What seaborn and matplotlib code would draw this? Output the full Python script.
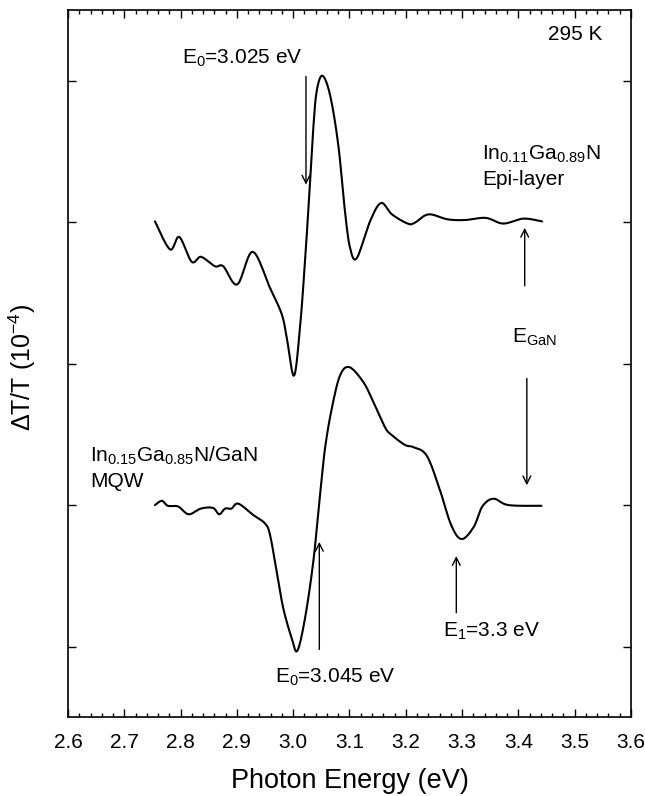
import numpy as np
import pandas as pd
import matplotlib
matplotlib.use("Agg")
import matplotlib.pyplot as plt
import seaborn as sns
from matplotlib.ticker import MultipleLocator

# Epi-layer spectrum (offset +2)
epi_x = [2.7545, 2.7812, 2.7977, 2.8197, 2.8362, 2.8611, 2.8758, 2.9007, 2.928, 2.9588,
         2.9796, 2.9885, 3.0014, 3.0121, 3.021, 3.0286, 3.0357, 3.0417, 3.0517, 3.0654,
         3.0801, 3.092, 3.1009, 3.1128, 3.1364, 3.156, 3.1754, 3.2032, 3.2156, 3.2403,
         3.2742, 3.3051, 3.3421, 3.373, 3.4088, 3.4422]
epi_y = [2.01, 1.615, 1.79, 1.44, 1.51, 1.376, 1.376, 1.12, 1.58, 1.07,
         0.70, 0.37, -0.17, 0.51, 1.45, 2.39, 3.33, 3.85, 4.07, 3.80,
         3.09, 2.15, 1.64, 1.49, 2.01, 2.27, 2.11, 1.98, 1.99, 2.11,
         2.04, 2.03, 2.06, 1.98, 2.05, 2.01]

# MQW spectrum (offset -2)
mqw_x = [2.7544, 2.7668, 2.7773, 2.7957, 2.8142, 2.8359, 2.8575, 2.8686, 2.879, 2.8902,
         2.9025, 2.9291, 2.9499, 2.9588, 2.9707, 2.9824, 2.9973, 3.0073, 3.021, 3.0357,
         3.0476, 3.0565, 3.0684, 3.0831, 3.0997, 3.1245, 3.1423, 3.163, 3.175, 3.1986,
         3.2133, 3.2371, 3.2595, 3.2805, 3.299, 3.3206, 3.3359, 3.3558, 3.3823, 3.4409]
mqw_y = [-2.00, -1.94, -2.01, -2.02, -2.13, -2.05, -2.04, -2.13, -2.05, -2.05,
         -1.98, -2.14, -2.26, -2.42, -2.94, -3.46, -3.88, -4.06, -3.60, -2.80,
         -1.86, -1.20, -0.64, -0.17, -0.05, -0.26, -0.54, -0.90, -1.01, -1.15,
         -1.18, -1.30, -1.76, -2.28, -2.48, -2.31, -2.02, -1.91, -2.00, -2.01]

x_ticks = [2.6, 2.7, 2.8, 2.9, 3.0, 3.1, 3.2, 3.3, 3.4, 3.5, 3.6]
x_ticklabels = ["2.6", "2.7", "2.8", "2.9", "3.0", "3.1", "3.2", "3.3", "3.4", "3.5", "3.6"]
y_ticks = [-4, -2, 0, 2, 4]

sns.set_style("ticks")
plt.rcParams['font.family'] = ['Liberation Sans', 'DejaVu Sans']
plt.rcParams['mathtext.fontset'] = 'custom'
plt.rcParams['mathtext.rm'] = 'Liberation Sans'
plt.rcParams['mathtext.it'] = 'Liberation Sans'
plt.rcParams['mathtext.default'] = 'regular'
plt.rcParams['text.color'] = 'black'
plt.rcParams['axes.labelcolor'] = 'black'
plt.rcParams['xtick.color'] = 'black'
plt.rcParams['ytick.color'] = 'black'
plt.rcParams['axes.edgecolor'] = 'black'

fig = plt.figure(figsize=(6.45, 7.96), dpi=100)
ax = fig.add_axes([0.1054, 0.0989, 0.8729, 0.8886])


def smooth(xs, ys, n=700):
    xs = np.asarray(xs, float); ys = np.asarray(ys, float)
    tt = np.linspace(0, len(xs) - 1, n)
    def cr(p):
        out = []
        for u in tt:
            i = min(int(u), len(p) - 2)
            s = u - i
            p0 = p[max(i - 1, 0)]; p1 = p[i]; p2 = p[i + 1]; p3 = p[min(i + 2, len(p) - 1)]
            out.append(0.5 * ((2 * p1) + (-p0 + p2) * s + (2 * p0 - 5 * p1 + 4 * p2 - p3) * s ** 2
                              + (-p0 + 3 * p1 - 3 * p2 + p3) * s ** 3))
        return np.array(out)
    return cr(xs), cr(ys)

ex, ey = smooth(epi_x, epi_y)
mx, my = smooth(mqw_x, mqw_y)
df_epi = pd.DataFrame({"E": ex, "dT": ey})
df_mqw = pd.DataFrame({"E": mx, "dT": my})
sns.lineplot(data=df_epi, x="E", y="dT", sort=False, estimator=None, color="black", lw=1.5, ax=ax)
sns.lineplot(data=df_mqw, x="E", y="dT", sort=False, estimator=None, color="black", lw=1.5, ax=ax)

ax.set_xlim(2.6, 3.6)
ax.set_ylim(-5.0, 5.0)
ax.set_xticks(x_ticks)
ax.set_xticklabels(x_ticklabels, fontsize=15)
ax.xaxis.set_minor_locator(MultipleLocator(0.02))
ax.set_yticks(y_ticks)
ax.set_yticklabels([])
ax.tick_params(axis='both', which='both', direction='in', top=True, right=True)
ax.tick_params(axis='both', which='major', length=5.5, width=1)
ax.tick_params(axis='x', which='minor', length=3, width=1)
ax.tick_params(axis='x', which='major', pad=11)
for s in ax.spines.values():
    s.set_linewidth(1.2)

ax.set_xlabel("Photon Energy (eV)", fontsize=19.5, labelpad=12)
ax.set_ylabel(r"$\Delta$T/T (10$^{-4}$)", fontsize=18)
ax.yaxis.set_label_coords(-0.0533, 0.494)

arr = dict(arrowstyle="->", color="black", lw=1.0, mutation_scale=14, shrinkA=0, shrinkB=0)
fs = 15
# Epi-layer annotations
ax.annotate("", xy=(3.0227, 2.53), xytext=(3.0227, 4.06), arrowprops=arr)
ax.text(2.909, 4.31, r"E$_0$=3.025 eV", fontsize=fs, ha="center", va="center")
ax.text(3.549, 4.65, "295 K", fontsize=fs, ha="right", va="center")
ax.text(3.336, 2.96, r"In$_{0.11}$Ga$_{0.89}$N", fontsize=fs, ha="left", va="center")
ax.text(3.336, 2.60, "Epi-layer", fontsize=fs, ha="left", va="center")
ax.annotate("", xy=(3.4112, 1.92), xytext=(3.4112, 1.10), arrowprops=arr)
ax.text(3.3885, 0.37, r"E$_{GaN}$", fontsize=fs, ha="left", va="center")
ax.annotate("", xy=(3.415, -1.72), xytext=(3.415, -0.21), arrowprops=arr)

# MQW annotations
ax.text(2.639, -1.30, r"In$_{0.15}$Ga$_{0.85}$N/GaN", fontsize=fs, ha="left", va="center")
ax.text(2.639, -1.66, "MQW", fontsize=fs, ha="left", va="center")
ax.annotate("", xy=(3.0464, -2.52), xytext=(3.0464, -4.04), arrowprops=arr)
ax.text(3.075, -4.44, r"E$_0$=3.045 eV", fontsize=fs, ha="center", va="center")
ax.annotate("", xy=(3.2897, -2.72), xytext=(3.2897, -3.52), arrowprops=arr)
ax.text(3.2655, -3.78, r"E$_1$=3.3 eV", fontsize=fs, ha="left", va="center")

fig.savefig("out.png", dpi=100)
